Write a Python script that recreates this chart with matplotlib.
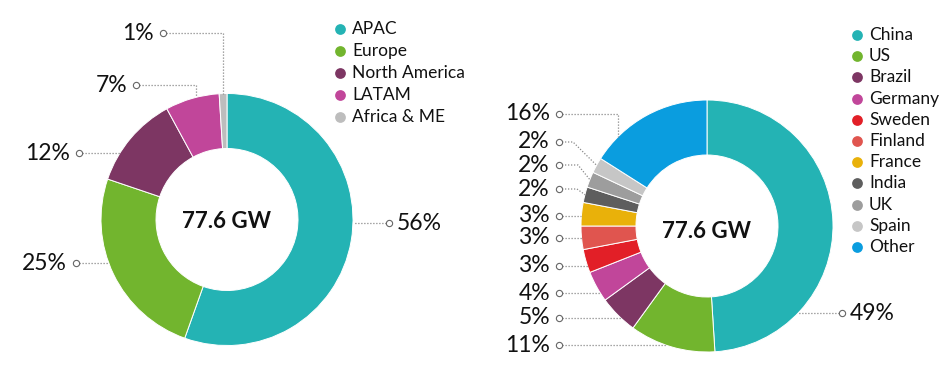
import numpy as np
import matplotlib
matplotlib.use("Agg")
import matplotlib.pyplot as plt

plt.rcParams['font.family'] = ['Lato', 'DejaVu Sans']

# ---------------- data ----------------
total_label = "77.6 GW"

regions = ["APAC", "Europe", "North America", "LATAM", "Africa & ME"]
region_share = [56, 25, 12, 7, 1]
region_colors = ["#24B3B4", "#72B52E", "#7D3663", "#C1469A", "#BDBDBD"]

countries = ["China", "US", "Brazil", "Germany", "Sweden", "Finland",
             "France", "India", "UK", "Spain", "Other"]
country_share = [49, 11, 5, 4, 3, 3, 3, 2, 2, 2, 16]
country_colors = ["#24B3B4", "#72B52E", "#7D3663", "#C1469A", "#E21F27",
                  "#E0554F", "#E9B10A", "#5E5E5E", "#9D9D9D", "#C6C6C6",
                  "#0A9DDF"]

# ---------------- layout (pixels) ----------------
W, H = 948, 377
R = 126
RING = 55
TEXT = "#111111"
LINE = "#8a8a8a"

# label layout: (y, side, marker_x, kind, knee_x)
region_label_layout = [
    (223, "right", 389, "h", None),
    (263, "left", 76, "h", None),
    (153, "left", 79, "h", None),
    (85, "left", 136, "elbow", 196),
    (33, "left", 163, "elbow", 223),
]
country_label_layout = [
    (313, "right", 842, "h", None),
    (345, "left", 559, "h", None),
    (318, "left", 559, "h", None),
    (293, "left", 559, "h", None),
    (266, "left", 559, "h", None),
    (238, "left", 559, "h", None),
    (216, "left", 559, "h", None),
    (189, "left", 559, "diag", 577),
    (165, "left", 559, "diag", 578),
    (142, "left", 559, "diag", 573),
    (114, "left", 559, "elbow", 618),
]

fig = plt.figure(figsize=(W / 100, H / 100), dpi=100)
ax = fig.add_axes([0, 0, 1, 1])


def Y(p):
    return H - p


def donut(cx, cy, values, colors, layout, legend_names, leg_x, leg_y0, leg_dy,
          leg_fs, center_dy):
    ax.pie(values, colors=colors, radius=R, center=(cx, Y(cy)),
           startangle=90, counterclock=False, frame=True,
           wedgeprops=dict(width=RING, edgecolor="white", linewidth=0.7))
    ax.text(cx, Y(cy + center_dy), total_label, ha="center", va="center",
            fontsize=16, fontweight="bold", color=TEXT)
    vals = np.asarray(values, dtype=float)
    fr = vals / vals.sum()
    cum = np.concatenate([[0], np.cumsum(fr)])
    for i, (ly, side, mx, kind, knee) in enumerate(layout):
        if kind == "h":
            dx = np.sqrt(max(R ** 2 - (ly - cy) ** 2, 0))
            ex = cx + dx if side == "right" else cx - dx
            xs, ys = [mx, ex], [ly, ly]
        elif kind == "elbow":
            ey = cy - np.sqrt(max(R ** 2 - (knee - cx) ** 2, 0))
            xs, ys = [mx, knee, knee], [ly, ly, ey]
        else:
            mid = (cum[i] + cum[i + 1]) / 2 * 2 * np.pi
            ex = cx + R * np.sin(mid)
            ey = cy - R * np.cos(mid)
            xs, ys = [mx, knee, ex], [ly, ly, ey]
        ax.plot(xs, [Y(v) for v in ys], color=LINE, lw=0.9,
                linestyle=(0, (1, 1.4)), zorder=3)
        ax.plot([mx], [Y(ly)], marker="o", ms=4.5, mfc="white", mec="#666666",
                mew=0.8, zorder=4)
        if side == "right":
            ax.text(mx + 8, Y(ly), f"{values[i]}%", ha="left", va="center",
                    fontsize=16.5, color=TEXT)
        else:
            ax.text(mx - 9, Y(ly), f"{values[i]}%", ha="right", va="center",
                    fontsize=16.5, color=TEXT)
    for j, name in enumerate(legend_names):
        yy = leg_y0 + j * leg_dy
        ax.scatter([leg_x], [Y(yy)], s=60, color=colors[j], zorder=4,
                   linewidths=0)
        ax.text(leg_x + 12, Y(yy), name, ha="left", va="center",
                fontsize=leg_fs, color=TEXT)


donut(227, 219.5, region_share, region_colors, region_label_layout,
      regions, 340, 29, 22, 12.5, 2)
donut(707, 226, country_share, country_colors, country_label_layout,
      countries, 857, 35, 21.2, 12.5, 5)

ax.set_xlim(0, W)
ax.set_ylim(0, H)
ax.set_aspect("equal")
ax.axis("off")

fig.savefig("out.png", dpi=100, facecolor="white")
